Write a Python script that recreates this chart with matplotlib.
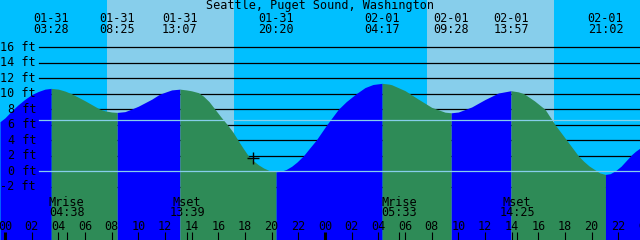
import matplotlib
matplotlib.use("Agg")
import matplotlib.pyplot as plt
import numpy as np

# --- data (hours counted from 01-31 00:00) ---
title = "Seattle, Puget Sound, Washington"

ext_dates = ["01-31", "01-31", "01-31", "01-31", "02-01", "02-01", "02-01", "02-01"]
ext_clock = ["03:28", "08:25", "13:07", "20:20", "04:17", "09:28", "13:57", "21:02"]
ext_feet = [10.7, 7.6, 10.6, -0.05, 11.35, 7.55, 10.4, -0.4]

# curve heights between the highs and lows
read_hours = [-0.375, 0.0, 0.5, 1.0, 1.5, 2.0, 2.5, 3.0,
              4.0, 4.5, 5.0, 6.0, 7.13, 7.5, 8.0,
              9.0, 9.45, 10.0, 11.0, 11.6, 12.0, 12.5,
              13.6, 14.0, 14.5, 14.88, 15.3, 15.75, 16.2, 16.73, 17.1, 17.48, 17.85,
              18.23, 18.6, 19.0, 19.4, 19.8,
              20.7, 21.1, 21.5, 21.9, 22.38, 22.85, 23.33, 24.13, 25.0, 25.6, 26.33,
              27.0, 27.6,
              28.8, 29.0, 30.0, 31.0, 32.0, 33.0,
              34.0, 35.0, 36.0, 37.0,
              38.5, 38.93, 39.7, 40.5, 41.26, 42.13, 43.0, 43.4, 43.8, 44.2, 44.6,
              45.4, 45.8, 46.2, 46.6, 47.0, 47.3, 47.625]
read_feet = [6.4, 6.9, 7.8, 8.6, 9.3, 9.9, 10.3, 10.6,
             10.6, 10.35, 10.0, 9.1, 8.0, 7.8, 7.65,
             7.7, 8.0, 8.4, 9.3, 9.95, 10.2, 10.5,
             10.5, 10.38, 10.15, 9.7, 9.0, 8.0, 7.0, 5.9, 5.05, 4.0, 3.0,
             2.05, 1.4, 0.85, 0.42, 0.12,
             0.0, 0.25, 0.65, 1.2, 2.0, 3.0, 4.0, 6.0, 8.0, 9.0, 10.0,
             10.8, 11.2,
             11.25, 11.17, 10.41, 9.31, 8.25, 7.63,
             7.65, 8.3, 9.26, 10.1,
             10.25, 10.0, 9.1, 8.0, 6.0, 4.0, 2.0, 1.3, 0.7, 0.25, -0.2,
             -0.3, 0.1, 0.65, 1.4, 2.15, 2.6, 3.0]

sun_up = [7.65, 31.65]
sun_down = [17.18, 41.18]

moon_kind = ["Mrise", "Mset", "Mrise", "Mset"]
moon_clock = ["04:38", "13:39", "05:33", "14:25"]
moon_day = [0, 0, 1, 1]

grid_feet = [16, 14, 12, 10, 8, 6, 4, 2, 0, -2]
mean_feet = 6.6
now_hour = 18.6
now_feet = 1.7

hour_ticks = list(range(0, 50, 2))


def clock_to_hours(day, clock):
    hh, mm = clock.split(":")
    return day * 24 + int(hh) + int(mm) / 60.0


ext_hours = [clock_to_hours(0 if d == "01-31" else 1, c) for d, c in zip(ext_dates, ext_clock)]
moon_hours = [clock_to_hours(d, c) for d, c in zip(moon_day, moon_clock)]

# merge readings and extremes into one curve
t = np.array(read_hours + ext_hours)
h = np.array(read_feet + ext_feet)
order = np.argsort(t)
t, h = t[order], h[order]

night = "#00BFFF"
day = "#87CEEB"
rising = "#0000FF"
falling = "#2E8B57"
font = dict(family="DejaVu Sans Mono", fontsize=8.5, color="black")

fig = plt.figure(figsize=(6.4, 2.4), dpi=100, facecolor=night)
ax = fig.add_axes([0, 0, 1, 1])
ax.set_xlim(-0.375, 47.625)
ax.set_ylim(-8.86, 22.1)
ax.set_facecolor(night)
ax.set_xticks([])
ax.set_yticks([])
for s in ax.spines.values():
    s.set_visible(False)

for a, b in zip(sun_up, sun_down):
    ax.axvspan(a, b, color=day, lw=0, zorder=0)

for g in grid_feet:
    if g != 0:
        ax.axhline(g, xmin=39 / 640, xmax=1, color="black", lw=0.9, zorder=1)

# tide fill, blue while rising, green while falling
bounds = [t[0]] + ext_hours + [t[-1]]
for a, b in zip(bounds[:-1], bounds[1:]):
    m = (t >= a - 1e-9) & (t <= b + 1e-9)
    col = rising if h[m][-1] > h[m][0] else falling
    ax.fill_between(t[m], h[m], -10, color=col, lw=0, zorder=2)

ax.axhline(mean_feet, xmin=39 / 640, xmax=1, color=day, lw=0.9, zorder=3)
ax.axhline(0, xmin=39 / 640, xmax=1, color=day, lw=0.9, zorder=3)

ax.plot([now_hour], [now_feet], marker="+", color="black", ms=8, mew=1.0, zorder=5)

ytr = ax.get_yaxis_transform()
for g in grid_feet:
    ax.text(36 / 640, g, f"{g} ft", ha="right", va="center", transform=ytr, zorder=6, **font)

xtr = ax.get_xaxis_transform()
ax.text(0.5, 1 - 6 / 240, title, ha="center", va="center", transform=ax.transAxes, zorder=6, **font)
for x, d, c in zip(ext_hours, ext_dates, ext_clock):
    ax.text(x, 1 - 18 / 240, d, ha="center", va="center", transform=xtr, zorder=6, **font)
    ax.text(x, 1 - 29.5 / 240, c, ha="center", va="center", transform=xtr, zorder=6, **font)

for x, k, c in zip(moon_hours, moon_kind, moon_clock):
    ax.text(x, 1 - 202 / 240, k, ha="center", va="center", transform=xtr, zorder=6, **font)
    ax.text(x, 1 - 213 / 240, c, ha="center", va="center", transform=xtr, zorder=6, **font)
    ax.vlines(x, 0, 8 / 240, transform=xtr, color="black", lw=0.8, zorder=6)

for x in hour_ticks + [48]:
    ax.text(x, 1 - 226 / 240, f"{x % 24:02d}", ha="center", va="center", transform=xtr,
            zorder=6, clip_on=True, **font)
    ax.vlines(x, 0, 8 / 240, transform=xtr, color="black",
              lw=2.2 if x % 24 == 0 else 0.8, zorder=6)

fig.savefig("out.png", dpi=100, facecolor=night)
